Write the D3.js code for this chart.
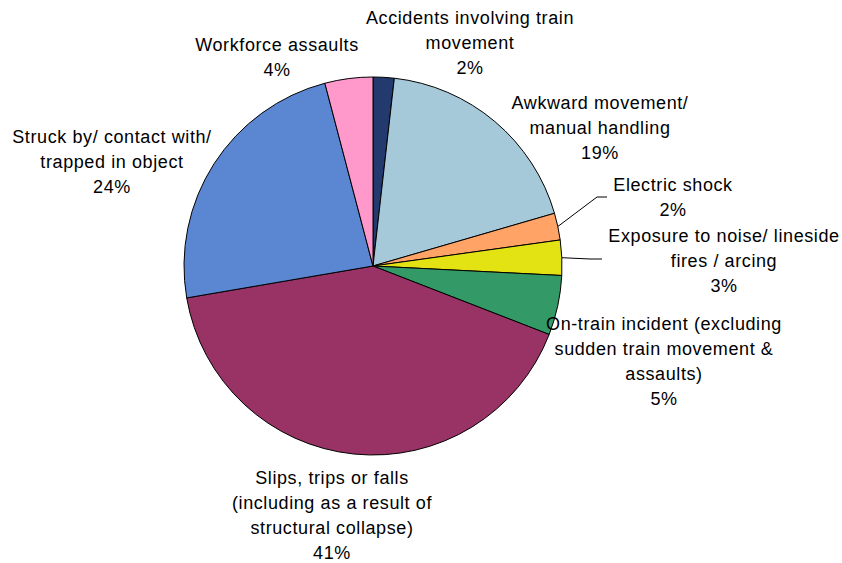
<!DOCTYPE html>
<html><head><meta charset="utf-8">
<script src="https://cdn.jsdelivr.net/npm/d3@7"></script>
<style>body{margin:0;background:#fff}svg{display:block}</style>
</head><body>
<svg id="chart" width="842" height="563"></svg>
<script>
const categories = [
  "Accidents involving train movement",
  "Awkward movement/ manual handling",
  "Electric shock",
  "Exposure to noise/ lineside fires / arcing",
  "On-train incident (excluding sudden train movement & assaults)",
  "Slips, trips or falls (including as a result of structural collapse)",
  "Struck by/ contact with/ trapped in object",
  "Workforce assaults"
];
const values = [1.8, 18.7, 2.3, 3.0, 5.1, 41.4, 23.6, 4.1];
const percentLabels = ["2%", "19%", "2%", "3%", "5%", "41%", "24%", "4%"];
const labelLines = [
  ["Accidents involving train", "movement"],
  ["Awkward movement/", "manual handling"],
  ["Electric shock"],
  ["Exposure to noise/ lineside", "fires / arcing"],
  ["On-train incident (excluding", "sudden train movement &", "assaults)"],
  ["Slips, trips or falls", "(including as a result of", "structural collapse)"],
  ["Struck by/ contact with/", "trapped in object"],
  ["Workforce assaults"]
];
const colors = ["#223a6e", "#a6c9da", "#ffa366", "#e3e314", "#339966", "#993366", "#5b86d1", "#ff99cc"];

// layout (label anchor: center x, first baseline y)
const labelPos = [
  [470, 24], [600, 109], [673, 191], [724, 242], [664, 330], [332, 484], [112, 143], [277, 51]
];
const leaderEnds = {2: [[597, 197], [607, 197]], 3: [[590, 259], [602, 259]]};

const cx = 373, cy = 266, r = 189, lineH = 25;
const svg = d3.select("#chart");
const g = svg.append("g").attr("transform", `translate(${cx},${cy})`);
const pie = d3.pie().sort(null).value(d => d);
const arcs = pie(values);
const arc = d3.arc().innerRadius(0).outerRadius(r);

g.selectAll("path.slice").data(arcs).enter().append("path")
  .attr("class", "slice")
  .attr("d", arc)
  .attr("fill", (d, i) => colors[i])
  .attr("stroke", "#000").attr("stroke-width", 1).attr("stroke-linejoin", "round");

arcs.forEach((d, i) => {
  if (leaderEnds[i]) {
    const a = (d.startAngle + d.endAngle) / 2;
    const p0 = [cx + r * Math.sin(a), cy - r * Math.cos(a)];
    const pts = [p0].concat(leaderEnds[i]);
    svg.append("path").attr("d", d3.line()(pts)).attr("fill", "none")
      .attr("stroke", "#000").attr("stroke-width", 1);
  }
});

labelLines.forEach((lines, i) => {
  const t = svg.append("text").attr("text-anchor", "middle")
    .attr("font-family", "Liberation Sans, Arial, sans-serif").attr("font-size", 18)
    .attr("letter-spacing", "0.6px").attr("fill", "#000");
  lines.concat([percentLabels[i]]).forEach((s, k) => {
    t.append("tspan").attr("x", labelPos[i][0]).attr("y", labelPos[i][1] + k * lineH).text(s);
  });
});
</script>
</body></html>
